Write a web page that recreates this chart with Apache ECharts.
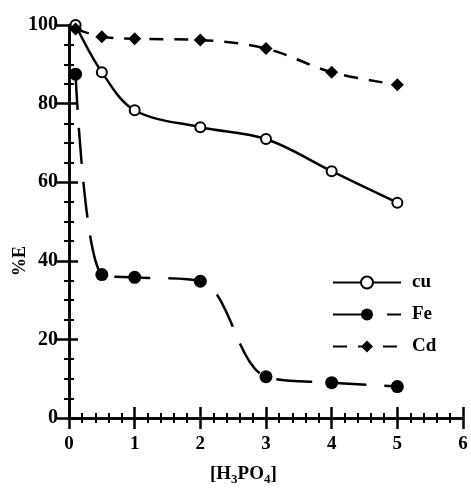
<!DOCTYPE html>
<html>
<head>
<meta charset="utf-8">
<script src="https://cdn.jsdelivr.net/npm/echarts@6/dist/echarts.min.js"></script>
<style>html,body{margin:0;padding:0;background:#fff}#c{width:471px;height:488px}</style>
</head>
<body>
<div id="c"></div>
<script>
var xCu = [0.1, 0.5, 1, 2, 3, 4, 5];
var cu  = [100, 88, 78.3, 74, 71, 62.8, 54.8];
var xFe = [0.1, 0.5, 1, 2, 3, 4, 5];
var fe  = [87.5, 36.5, 35.8, 34.8, 10.5, 9, 8];
var xCd = [0.1, 0.5, 1, 2, 3, 4, 5];
var cd  = [99, 97, 96.5, 96.2, 94, 88, 84.8];
var xTicks = [0, 1, 2, 3, 4, 5, 6];
var yTicks = [0, 20, 40, 60, 80, 100];

function pairs(xs, ys){ return xs.map(function(x,i){return [x, ys[i]];}); }

var FONT = '"Liberation Serif", "DejaVu Serif", serif';
var chart = echarts.init(document.getElementById('c'));
var axisCommon = {
  axisLine:{show:true, lineStyle:{color:'#000', width:2.5}},
  splitLine:{show:false},
  minorSplitLine:{show:false}
};
chart.setOption({
  animation:false,
  backgroundColor:'#fff',
  grid:{left:69, right:8, top:25, bottom:70},
  legend:{
    orient:'vertical', left:332, top:273, padding:0, itemWidth:68, itemHeight:15, itemGap:13,
    data:['cu','Fe','Cd'],
    textStyle:{fontFamily:FONT, fontWeight:'bold', fontSize:19, color:'#000', padding:[0,0,0,6]}
  },
  xAxis:[
    Object.assign({type:'value', min:0, max:6, interval:1, position:'bottom',
      axisTick:{show:true, inside:false, length:11, lineStyle:{width:2.5, color:'#000'}},
      minorTick:{show:true, splitNumber:5, length:5, lineStyle:{width:2, color:'#000'}},
      axisLabel:{fontFamily:FONT, fontWeight:'bold', fontSize:19, color:'#000', margin:17,
        formatter:function(v){return xTicks.indexOf(v)>=0? String(v):'';}}
    }, axisCommon),
    Object.assign({type:'value', min:0, max:6, interval:1, position:'top',
      axisTick:{show:true, inside:false, length:11, lineStyle:{width:2.5, color:'#000'}},
      minorTick:{show:true, splitNumber:5, length:5, lineStyle:{width:2, color:'#000'}},
      axisLabel:{show:false}
    }, axisCommon)
  ],
  yAxis:[
    Object.assign({type:'value', min:0, max:100, interval:20, position:'left',
      axisTick:{show:true, inside:false, length:12, lineStyle:{width:2.5, color:'#000'}},
      minorTick:{show:true, splitNumber:4, length:5, lineStyle:{width:2, color:'#000'}},
      axisLabel:{fontFamily:FONT, fontWeight:'bold', fontSize:20, color:'#000', margin:11,
        formatter:function(v){return yTicks.indexOf(v)>=0? String(v):'';}}
    }, axisCommon),
    Object.assign({type:'value', min:0, max:100, interval:20, position:'right',
      axisTick:{show:true, inside:false, length:9, lineStyle:{width:2.5, color:'#000'}},
      minorTick:{show:true, splitNumber:4, length:5, lineStyle:{width:2, color:'#000'}},
      axisLabel:{show:false}
    }, axisCommon)
  ],
  graphic:[
    {type:'text', left:210, top:465, style:{
      text:'{a|[H}{s|3}{a|PO}{s|4}{a|]}',
      rich:{a:{fontFamily:FONT, fontWeight:'bold', fontSize:19, fill:'#000'},
            s:{fontFamily:FONT, fontWeight:'bold', fontSize:13, fill:'#000', verticalAlign:'bottom', padding:[10,0,0,0]}}
    }},
    {type:'text', x:20, y:261, rotation:Math.PI/2, style:{
      text:'%E', fontFamily:FONT, fontWeight:'bold', fontSize:18, fill:'#000', align:'center', verticalAlign:'middle'
    }}
  ],
  series:[
    {name:'cu', type:'line', smooth:0.35, data:pairs(xCu, cu), symbol:'emptyCircle', symbolSize:10,
      lineStyle:{color:'#000', width:2.5, type:[1000,0]},
      itemStyle:{color:'#000', borderColor:'#000', borderWidth:2.5}},
    {name:'Fe', type:'line', smooth:0.35, data:pairs(xFe, fe), symbol:'circle', symbolSize:13,
      lineStyle:{color:'#000', width:2.5, type:[36,18]},
      itemStyle:{color:'#000'}},
    {name:'Cd', type:'line', smooth:0.35, data:pairs(xCd, cd), symbol:'diamond', symbolSize:13,
      lineStyle:{color:'#000', width:2.5, type:[14,11]},
      itemStyle:{color:'#000'}}
  ]
});
</script>
</body>
</html>
